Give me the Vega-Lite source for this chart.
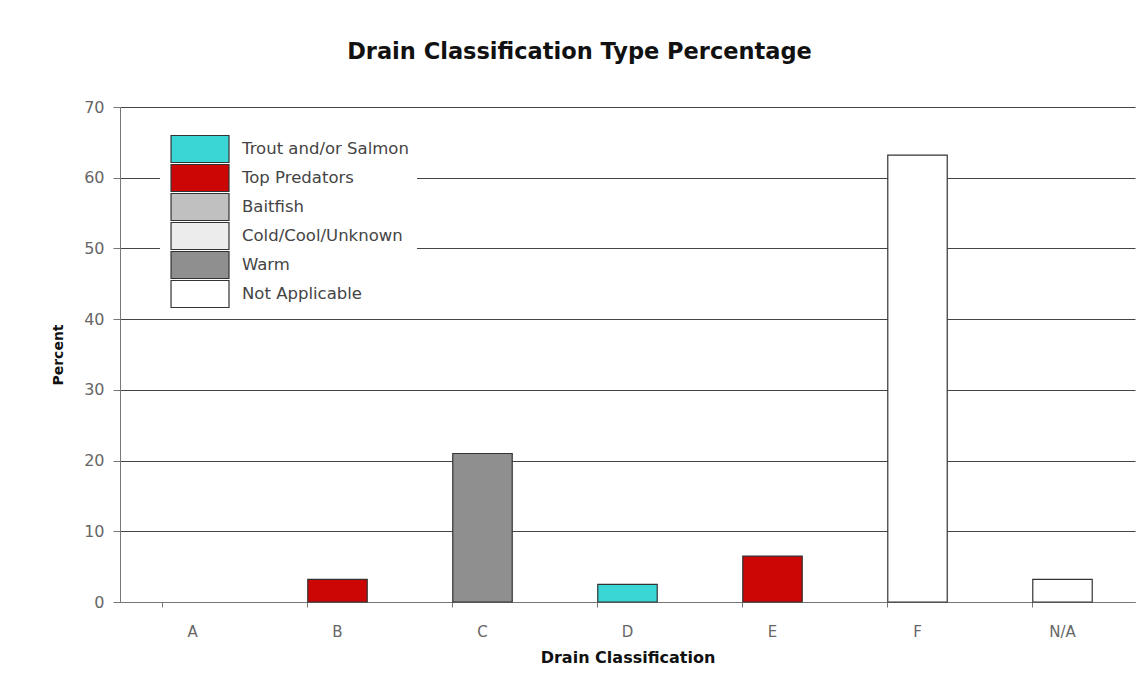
{
  "$schema": "https://vega.github.io/schema/vega-lite/v6.json",
  "width": 1015,
  "height": 495,
  "autosize": {"type": "none"},
  "padding": {"left": 120, "top": 107, "right": 1, "bottom": 86},
  "background": "white",
  "title": {
    "text": "Drain Classification Type Percentage",
    "font": "DejaVu Sans",
    "fontSize": 22.5,
    "fontWeight": "bold",
    "color": "#111",
    "anchor": "middle",
    "dx": -48,
    "offset": 36
  },
  "data": {
    "values": [
      {"classification": "A", "percent": 0, "type": "Top Predators"},
      {"classification": "B", "percent": 3.2, "type": "Top Predators"},
      {"classification": "C", "percent": 21.0, "type": "Warm"},
      {"classification": "D", "percent": 2.5, "type": "Trout and/or Salmon"},
      {"classification": "E", "percent": 6.5, "type": "Top Predators"},
      {"classification": "F", "percent": 63.2, "type": "Not Applicable"},
      {"classification": "N/A", "percent": 3.2, "type": "Not Applicable"}
    ]
  },
  "mark": {"type": "bar", "stroke": "#333", "strokeWidth": 1.2},
  "encoding": {
    "x": {
      "field": "classification",
      "type": "nominal",
      "sort": null,
      "scale": {"paddingInner": 0.59, "paddingOuter": 0.295},
      "axis": {
        "title": "Drain Classification",
        "labelAngle": 0,
        "bandPosition": 0,
        "tickSize": 5,
        "labelPadding": 17,
        "titlePadding": 10,
        "domainColor": "#777",
        "tickColor": "#777",
        "labelColor": "#666",
        "labelFont": "DejaVu Sans",
        "labelFontSize": 15,
        "titleFont": "DejaVu Sans",
        "titleFontSize": 16,
        "titleFontWeight": "bold",
        "titleColor": "#111",
        "grid": false
      }
    },
    "y": {
      "field": "percent",
      "type": "quantitative",
      "scale": {"domain": [0, 70], "nice": false},
      "axis": {
        "title": "Percent",
        "values": [0, 10, 20, 30, 40, 50, 60, 70],
        "tickSize": 7,
        "labelPadding": 9,
        "titlePadding": 18,
        "domainColor": "#777",
        "tickColor": "#777",
        "labelColor": "#666",
        "labelFont": "DejaVu Sans",
        "labelFontSize": 16,
        "titleFont": "DejaVu Sans",
        "titleFontSize": 14,
        "titleFontWeight": "bold",
        "titleColor": "#111",
        "grid": true,
        "gridColor": "#444",
        "gridWidth": 1
      }
    },
    "strokeOpacity": {
      "condition": {"test": "datum.percent == 0", "value": 0},
      "value": 1
    },
    "fill": {
      "field": "type",
      "type": "nominal",
      "scale": {
        "domain": ["Trout and/or Salmon", "Top Predators", "Baitfish", "Cold/Cool/Unknown", "Warm", "Not Applicable"],
        "range": ["#3ad6d6", "#cc0505", "#c0c0c0", "#ececec", "#8f8f8f", "#ffffff"]
      },
      "legend": {
        "orient": "none",
        "legendX": 40,
        "legendY": 21,
        "title": null,
        "fillColor": "white",
        "padding": 8,
        "symbolType": "M-0.83,-1.125L4,-1.125L4,1.125L-0.83,1.125Z",
        "symbolSize": 576,
        "symbolStrokeColor": "#333",
        "symbolStrokeWidth": 1.2,
        "symbolOpacity": 1,
        "labelFont": "DejaVu Sans",
        "labelFontSize": 16.5,
        "labelColor": "#444",
        "labelOffset": 48,
        "rowPadding": -4,
        "labelLimit": 400
      }
    }
  },
  "config": {
    "view": {"stroke": null}
  }
}
